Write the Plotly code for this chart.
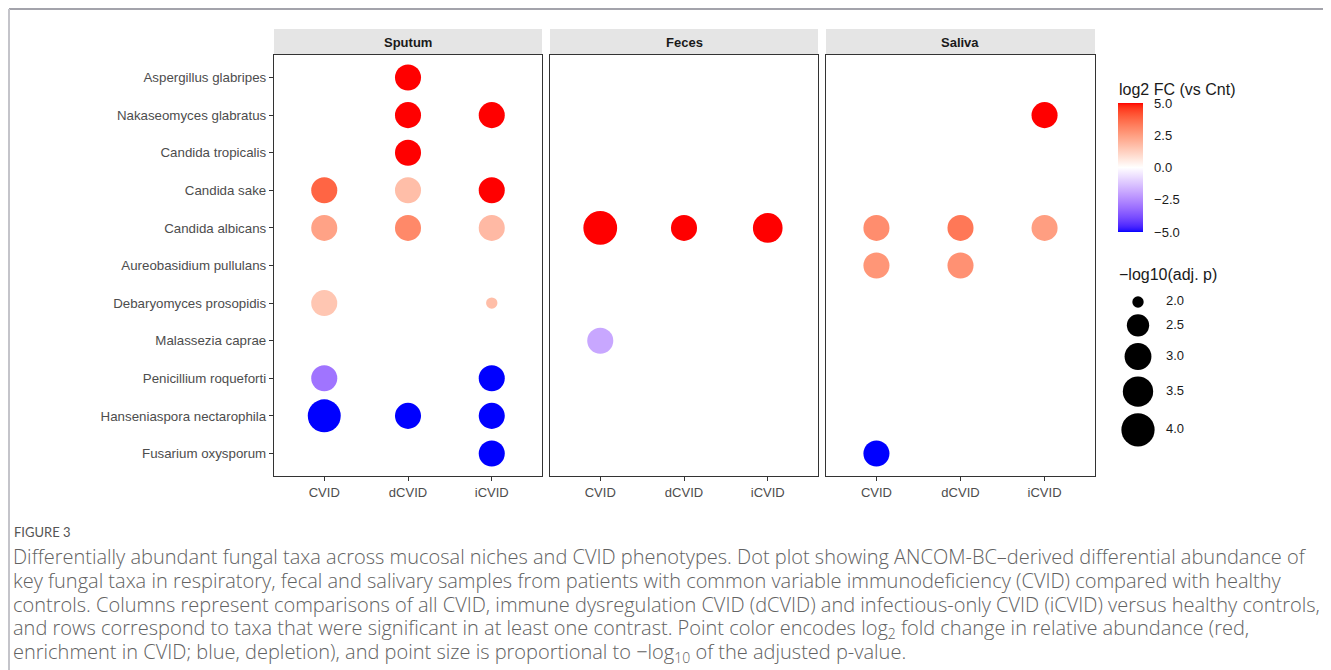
import math
import plotly.graph_objects as go

# ---------------- data ----------------
niches = ["Sputum", "Feces", "Saliva"]
comparisons = ["CVID", "dCVID", "iCVID"]
taxa = [
    "Aspergillus glabripes",
    "Nakaseomyces glabratus",
    "Candida tropicalis",
    "Candida sake",
    "Candida albicans",
    "Aureobasidium pullulans",
    "Debaryomyces prosopidis",
    "Malassezia caprae",
    "Penicillium roqueforti",
    "Hanseniaspora nectarophila",
    "Fusarium oxysporum",
]

point_niche = [
    "Sputum", "Sputum", "Sputum", "Sputum",
    "Sputum", "Sputum", "Sputum",
    "Sputum", "Sputum", "Sputum",
    "Sputum", "Sputum",
    "Sputum", "Sputum",
    "Sputum", "Sputum", "Sputum",
    "Sputum",
    "Feces", "Feces", "Feces", "Feces",
    "Saliva", "Saliva", "Saliva", "Saliva", "Saliva", "Saliva", "Saliva",
]
point_taxon = [
    "Aspergillus glabripes", "Nakaseomyces glabratus", "Nakaseomyces glabratus", "Candida tropicalis",
    "Candida sake", "Candida sake", "Candida sake",
    "Candida albicans", "Candida albicans", "Candida albicans",
    "Debaryomyces prosopidis", "Debaryomyces prosopidis",
    "Penicillium roqueforti", "Penicillium roqueforti",
    "Hanseniaspora nectarophila", "Hanseniaspora nectarophila", "Hanseniaspora nectarophila",
    "Fusarium oxysporum",
    "Candida albicans", "Candida albicans", "Candida albicans", "Malassezia caprae",
    "Nakaseomyces glabratus", "Candida albicans", "Candida albicans", "Candida albicans",
    "Aureobasidium pullulans", "Aureobasidium pullulans", "Fusarium oxysporum",
]
point_comparison = [
    "dCVID", "dCVID", "iCVID", "dCVID",
    "CVID", "dCVID", "iCVID",
    "CVID", "dCVID", "iCVID",
    "CVID", "iCVID",
    "CVID", "iCVID",
    "CVID", "dCVID", "iCVID",
    "iCVID",
    "CVID", "dCVID", "iCVID", "CVID",
    "iCVID", "CVID", "dCVID", "iCVID",
    "CVID", "dCVID", "CVID",
]
point_log2fc = [
    5.0, 5.0, 5.0, 5.0,
    3.8, 1.7, 5.0,
    2.4, 3.0, 1.8,
    1.5, 1.7,
    -3.0, -5.0,
    -5.0, -5.0, -5.0,
    -5.0,
    5.0, 5.0, 5.0, -1.9,
    5.0, 2.9, 3.4, 2.5,
    2.7, 2.8, -5.0,
]
point_neglog10p = [
    2.9, 2.9, 2.9, 2.9,
    2.9, 2.9, 2.9,
    2.9, 2.9, 2.9,
    2.9, 2.0,
    2.9, 2.9,
    3.95, 2.9, 2.9,
    2.9,
    4.1, 2.9, 3.4, 2.9,
    2.9, 2.9, 2.9, 2.9,
    2.9, 2.9, 2.9,
]
size_breaks = [2.0, 2.5, 3.0, 3.5, 4.0]
color_breaks = [5.0, 2.5, 0.0, -2.5, -5.0]

caption_label = "FIGURE 3"
caption_lines = [
    "Differentially abundant fungal taxa across mucosal niches and CVID phenotypes. Dot plot showing ANCOM-BC\u2013derived differential abundance of",
    "key fungal taxa in respiratory, fecal and salivary samples from patients with common variable immunodeficiency (CVID) compared with healthy",
    "controls. Columns represent comparisons of all CVID, immune dysregulation CVID (dCVID) and infectious-only CVID (iCVID) versus healthy controls,",
    "and rows correspond to taxa that were significant in at least one contrast. Point color encodes log<sub>2</sub> fold change in relative abundance (red,",
    "enrichment in CVID; blue, depletion), and point size is proportional to \u2212log<sub>10</sub> of the adjusted p-value.",
]

# ---------------- styling / scales ----------------
PAGE_W, PAGE_H = 1331, 670
OFF = 8  # default page body margin
W, H = PAGE_W - OFF, PAGE_H - OFF
FONT = "Liberation Sans, Arial, sans-serif"
SIZE_RANGE_PX = (11.4, 33.8)
CLIM = (-5.0, 5.0)


def px_x(p):
    return (p - OFF) / W


def px_y(p):
    return 1 - (p - OFF) / H


# Lab interpolation (like ggplot2 scale_colour_gradient2)
def _lin(c):
    c = c / 255.0
    return c / 12.92 if c <= 0.04045 else ((c + 0.055) / 1.055) ** 2.4


def _f(t):
    d = 6 / 29
    return t ** (1 / 3) if t > d ** 3 else t / (3 * d * d) + 4 / 29


def _finv(t):
    d = 6 / 29
    return t ** 3 if t > d else 3 * d * d * (t - 4 / 29)


WN = (0.95047, 1.0, 1.08883)


def rgb2lab(rgb):
    r, g, b = (_lin(v) for v in rgb)
    X = 0.4124564 * r + 0.3575761 * g + 0.1804375 * b
    Y = 0.2126729 * r + 0.7151522 * g + 0.0721750 * b
    Z = 0.0193339 * r + 0.1191920 * g + 0.9503041 * b
    fx, fy, fz = _f(X / WN[0]), _f(Y / WN[1]), _f(Z / WN[2])
    return (116 * fy - 16, 500 * (fx - fy), 200 * (fy - fz))


def lab2rgb(lab):
    L, a, b = lab
    fy = (L + 16) / 116
    fx = fy + a / 500
    fz = fy - b / 200
    X, Y, Z = WN[0] * _finv(fx), WN[1] * _finv(fy), WN[2] * _finv(fz)
    r = 3.2404542 * X - 1.5371385 * Y - 0.4985314 * Z
    g = -0.9692660 * X + 1.8760108 * Y + 0.0415560 * Z
    bb = 0.0556434 * X - 0.2040259 * Y + 1.0572252 * Z
    out = []
    for c in (r, g, bb):
        c = 12.92 * c if c <= 0.0031308 else 1.055 * max(c, 0) ** (1 / 2.4) - 0.055
        out.append(int(round(min(max(c, 0), 1) * 255)))
    return "rgb(%d,%d,%d)" % tuple(out)


LOW, MID, HIGH = rgb2lab((0, 0, 255)), rgb2lab((255, 255, 255)), rgb2lab((255, 0, 0))
colorscale = []
NSTOP = 60
for i in range(NSTOP + 1):
    t = i / NSTOP
    if t <= 0.5:
        s, A, B = t / 0.5, LOW, MID
    else:
        s, A, B = (t - 0.5) / 0.5, MID, HIGH
    lab = tuple(A[k] + (B[k] - A[k]) * s for k in range(3))
    colorscale.append([t, lab2rgb(lab)])

vmin, vmax = min(point_neglog10p), max(point_neglog10p)


def size_px(v):
    r = (v - vmin) / (vmax - vmin)
    r = min(max(r, 0.0), 1.0)
    return SIZE_RANGE_PX[0] + (SIZE_RANGE_PX[1] - SIZE_RANGE_PX[0]) * math.sqrt(r)


# ---------------- figure ----------------
fig = go.Figure()

panel_x = {"Sputum": (274, 542), "Feces": (550, 818), "Saliva": (826, 1095)}
panel_top, panel_bot = 55, 476
strip_top = 29
axis_names = {"Sputum": ("x", "y"), "Feces": ("x2", "y2"), "Saliva": ("x3", "y3")}

for niche in niches:
    xs, ys, cs, ss = [], [], [], []
    for n, t, c, fc, p in zip(point_niche, point_taxon, point_comparison, point_log2fc, point_neglog10p):
        if n == niche:
            xs.append(c)
            ys.append(t)
            cs.append(fc)
            ss.append(size_px(p))
    xa, ya = axis_names[niche]
    fig.add_trace(go.Scatter(
        x=xs, y=ys, mode="markers", xaxis=xa, yaxis=ya, showlegend=False,
        marker=dict(size=ss, sizemode="diameter", color=cs, coloraxis="coloraxis",
                    line=dict(width=0), opacity=1),
        hoverinfo="skip",
    ))

ncat = len(taxa)
layout_axes = {}
for i, niche in enumerate(niches):
    x0, x1 = panel_x[niche]
    suffix = "" if i == 0 else str(i + 1)
    layout_axes["xaxis" + suffix] = dict(
        domain=[px_x(x0), px_x(x1)], anchor="y" + suffix,
        type="category", categoryorder="array", categoryarray=comparisons,
        range=[-0.6, len(comparisons) - 0.4],
        showline=True, mirror=True, linecolor="#333333", linewidth=1.3,
        ticks="outside", ticklen=4, tickwidth=1, tickcolor="#333333",
        tickfont=dict(family=FONT, size=13, color="#4D4D4D"),
        showgrid=False, zeroline=False, automargin=False, fixedrange=True,
    )
    layout_axes["yaxis" + suffix] = dict(
        domain=[px_y(panel_bot), px_y(panel_top)], anchor="x" + suffix,
        type="category", categoryorder="array", categoryarray=taxa,
        range=[ncat - 0.4, -0.6],
        showline=True, mirror=True, linecolor="#333333", linewidth=1.3,
        ticks="outside" if i == 0 else "", ticklen=4, tickwidth=1, tickcolor="#333333",
        showticklabels=(i == 0),
        tickfont=dict(family=FONT, size=13.3, color="#4D4D4D"),
        showgrid=False, zeroline=False, automargin=False, fixedrange=True,
    )

# size legend axes (page pixel units)
LEG_X0, LEG_X1 = 1105, 1230
LEG_Y0, LEG_Y1 = 280, 455
layout_axes["xaxis4"] = dict(domain=[px_x(LEG_X0), px_x(LEG_X1)], anchor="y4",
                             range=[LEG_X0, LEG_X1], visible=False, fixedrange=True)
layout_axes["yaxis4"] = dict(domain=[px_y(LEG_Y1), px_y(LEG_Y0)], anchor="x4",
                             range=[LEG_Y1, LEG_Y0], visible=False, fixedrange=True)

key_d = [size_px(b) for b in size_breaks]
key_y = []
cur = 302.0
for k, d in enumerate(key_d):
    if k > 0:
        cur += (key_d[k - 1] + d) / 2 + 6.5
    key_y.append(cur)

fig.add_trace(go.Scatter(
    x=[1138] * len(size_breaks), y=key_y, mode="markers", xaxis="x4", yaxis="y4",
    marker=dict(size=key_d, sizemode="diameter", color="black", line=dict(width=0), opacity=1),
    showlegend=False, hoverinfo="skip",
))
fig.add_trace(go.Scatter(
    x=[1166] * len(size_breaks), y=key_y, mode="text", xaxis="x4", yaxis="y4",
    text=["%.1f" % b for b in size_breaks], textposition="middle right",
    textfont=dict(family=FONT, size=13, color="#1A1A1A"),
    showlegend=False, hoverinfo="skip",
))

shapes = []
annotations = []
for niche in niches:
    x0, x1 = panel_x[niche]
    shapes.append(dict(type="rect", xref="paper", yref="paper",
                       x0=px_x(x0), x1=px_x(x1), y0=px_y(panel_top), y1=px_y(strip_top),
                       fillcolor="#E5E5E5", line=dict(width=0), layer="below"))
    annotations.append(dict(text="<b>%s</b>" % niche, xref="paper", yref="paper",
                            x=px_x((x0 + x1) / 2), y=px_y((strip_top + panel_top) / 2),
                            xanchor="center", yanchor="middle", showarrow=False,
                            font=dict(family=FONT, size=13, color="#1A1A1A")))

# page frame lines (as close to the page edge as the page margin allows)
shapes.append(dict(type="line", xref="paper", yref="paper", x0=px_x(9), x1=1.0,
                   y0=px_y(9), y1=px_y(9), line=dict(color="#A3A3AB", width=2)))
shapes.append(dict(type="line", xref="paper", yref="paper", x0=px_x(9), x1=px_x(9),
                   y0=px_y(9), y1=0.0, line=dict(color="#C4C4CA", width=2)))

# legend titles
annotations.append(dict(text="log2 FC (vs Cnt)", xref="paper", yref="paper",
                        x=px_x(1117), y=px_y(90), xanchor="left", yanchor="middle",
                        showarrow=False, font=dict(family=FONT, size=16, color="#1A1A1A")))
annotations.append(dict(text="\u2212log10(adj. p)", xref="paper", yref="paper",
                        x=px_x(1117), y=px_y(274), xanchor="left", yanchor="middle",
                        showarrow=False, font=dict(family=FONT, size=16, color="#1A1A1A")))

# caption
CAP_FONT = "Open Sans, Lato, sans-serif"
annotations.append(dict(text=caption_label, xref="paper", yref="paper",
                        x=px_x(12), y=px_y(532), xanchor="left", yanchor="middle",
                        showarrow=False, font=dict(family="Lato, sans-serif", size=13, color="#555555")))
for k, line in enumerate(caption_lines):
    annotations.append(dict(text=line, xref="paper", yref="paper",
                            x=px_x(11), y=px_y(556 + 24 * k), xanchor="left", yanchor="middle",
                            showarrow=False,
                            font=dict(family=CAP_FONT, size=20, color="#626262", weight=300)))

fig.update_layout(
    width=W, height=H,
    margin=dict(l=0, r=0, t=0, b=0),
    paper_bgcolor="white", plot_bgcolor="white",
    showlegend=False,
    coloraxis=dict(
        colorscale=colorscale, cmin=CLIM[0], cmax=CLIM[1],
        colorbar=dict(
            x=px_x(1118), xanchor="left", xpad=0,
            y=px_y(103), yanchor="top", ypad=0,
            len=129, lenmode="pixels", thickness=25, thicknessmode="pixels",
            outlinewidth=0,
            tickmode="array", tickvals=color_breaks,
            ticktext=["%.1f" % v if v >= 0 else "\u2212%.1f" % abs(v) for v in color_breaks],
            ticks="outside", ticklen=9, tickcolor="rgba(255,255,255,0)", tickwidth=1,
            tickfont=dict(family=FONT, size=13, color="#1A1A1A"),
        ),
    ),
    shapes=shapes,
    annotations=annotations,
    **layout_axes,
)

fig.write_html("out.html")
